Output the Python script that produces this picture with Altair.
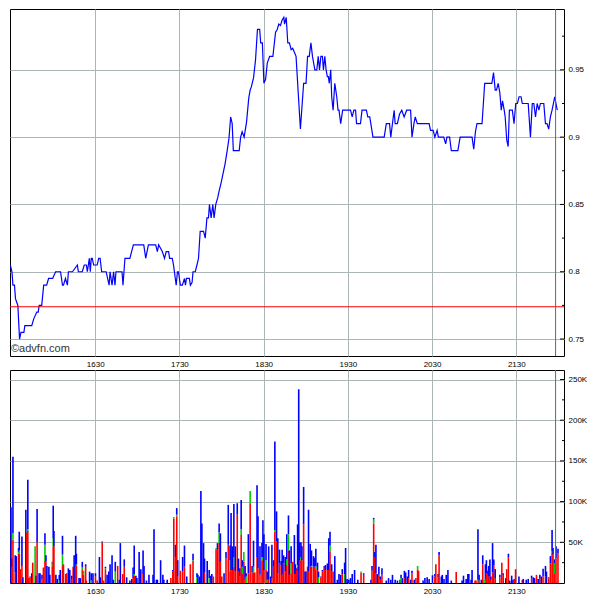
import altair as alt
import pandas as pd

# ---------------- data (minutes after 15:30) ----------------
price_time = [-0.5, 0.7, 1.4, 2.5, 3.2, 4.2, 4.9, 6.1, 7.1, 9.2, 9.9, 14.8, 16.2, 18.4, 19.4, 20.1, 21.9,
              23.3, 25.4, 26.8, 29.7, 31.8, 35.3, 36.7, 37.4, 38.8, 40.2, 40.9, 43.8, 47.3, 48.0, 50.8,
              52.2, 53.7, 54.4, 55.8, 56.5, 57.2, 57.9, 58.9, 61.4, 62.5, 63.5, 64.6, 67.8, 69.9, 70.6,
              72.0, 73.1, 74.1, 74.8, 79.1, 79.8, 81.2, 84.7, 87.2, 94.6, 96.0, 97.9, 103.1, 104.3, 105.2,
              107.8, 109.4, 110.6, 112.3, 113.0, 114.9, 115.8, 117.7, 118.6, 119.3, 120.7, 122.1, 123.6,
              124.3, 125.0, 127.1, 127.8, 129.0, 129.7, 131.3, 132.5, 133.6, 134.8, 137.2, 138.4, 139.6,
              140.7, 141.4, 142.6, 143.8, 144.7, 145.9, 147.3, 148.3, 149.7, 151.3, 152.5, 153.9, 155.3,
              156.5, 157.6, 158.4, 162.6, 163.6, 164.7, 166.1, 167.8, 169.4, 170.4, 171.3, 172.8, 174.2,
              175.6, 177.2, 177.9, 179.1, 180.2, 181.4, 182.6, 184.3, 186.6, 188.5, 189.7, 190.8, 192.0,
              193.2, 194.4, 194.9, 196.1, 197.2, 198.4, 199.6, 200.7, 201.9, 203.1, 206.2, 208.5, 210.2,
              211.3, 212.5, 213.7, 214.8, 216.5, 217.9, 218.9, 219.8, 220.8, 221.9, 222.6, 223.6, 224.5,
              225.4, 226.1, 226.8, 227.8, 228.5, 229.5, 230.7, 232.1, 233.0, 233.7, 234.9, 236.3, 241.9,
              243.1, 244.3, 245.5, 246.2, 249.0, 250.1, 253.2, 254.2, 255.6, 257.9, 265.9, 267.4, 269.7,
              270.6, 272.0, 273.0, 273.7, 275.3, 276.8, 278.4, 280.1, 281.9, 284.7, 285.7, 287.1, 288.0,
              289.5, 297.9, 298.9, 300.8, 302.0, 303.6, 304.5, 308.3, 309.7, 310.6, 312.5, 313.7, 318.4,
              320.0, 328.5, 329.7, 330.9, 332.0, 335.6, 337.5, 342.6, 343.8, 345.0, 345.9, 347.1, 348.3,
              349.3, 350.2, 351.4, 352.1, 353.2, 354.2, 355.1, 357.2, 358.4, 359.6, 360.8, 362.0, 363.4,
              364.3, 368.5, 370.1, 371.4, 372.5, 373.7, 374.9, 376.1, 377.2, 379.6, 380.8, 381.9, 383.1,
              384.3, 385.5, 387.4, 388.3, 389.2]
price_value = [0.805, 0.80, 0.79, 0.79, 0.78, 0.777, 0.775, 0.75, 0.755, 0.755, 0.76, 0.76, 0.765, 0.77, 0.77,
               0.775, 0.775, 0.79, 0.79, 0.795, 0.795, 0.80, 0.80, 0.79, 0.79, 0.795, 0.79, 0.80, 0.80, 0.805,
               0.80, 0.80, 0.805, 0.805, 0.80, 0.81, 0.80, 0.81, 0.81, 0.805, 0.805, 0.81, 0.81, 0.80, 0.80,
               0.79, 0.80, 0.79, 0.80, 0.79, 0.80, 0.80, 0.79, 0.81, 0.81, 0.82, 0.82, 0.81, 0.82, 0.82, 0.815,
               0.82, 0.815, 0.81, 0.815, 0.815, 0.81, 0.81, 0.805, 0.79, 0.80, 0.80, 0.79, 0.79, 0.795, 0.79,
               0.795, 0.795, 0.79, 0.792, 0.80, 0.80, 0.805, 0.81, 0.83, 0.83, 0.825, 0.84, 0.84, 0.85, 0.84,
               0.85, 0.84, 0.85, 0.855, 0.86, 0.866, 0.874, 0.88, 0.889, 0.899, 0.915, 0.91, 0.89, 0.89, 0.90,
               0.904, 0.90, 0.911, 0.929, 0.935, 0.9375, 0.944, 0.957, 0.98, 0.98, 0.97, 0.97, 0.94, 0.943,
               0.955, 0.96, 0.96, 0.978, 0.98, 0.984, 0.983, 0.987, 0.989, 0.984, 0.989, 0.97, 0.97, 0.965,
               0.966, 0.963, 0.96, 0.906, 0.94, 0.94, 0.96, 0.96, 0.97, 0.96, 0.95, 0.95, 0.96, 0.95, 0.96,
               0.96, 0.95, 0.96, 0.95, 0.945, 0.945, 0.94, 0.95, 0.93, 0.92, 0.94, 0.93, 0.92, 0.92, 0.91,
               0.92, 0.92, 0.915, 0.92, 0.92, 0.91, 0.91, 0.92, 0.92, 0.915, 0.915, 0.90, 0.90, 0.91, 0.91,
               0.90, 0.912, 0.92, 0.91, 0.91, 0.917, 0.92, 0.915, 0.92, 0.92, 0.90, 0.91, 0.915, 0.91, 0.91,
               0.905, 0.905, 0.90, 0.905, 0.90, 0.90, 0.895, 0.90, 0.90, 0.89, 0.89, 0.90, 0.90, 0.891, 0.904,
               0.91, 0.91, 0.94, 0.94, 0.948, 0.935, 0.935, 0.94, 0.933, 0.92, 0.927, 0.92, 0.915, 0.898,
               0.893, 0.92, 0.92, 0.91, 0.925, 0.925, 0.93, 0.93, 0.925, 0.925, 0.90, 0.925, 0.925, 0.915,
               0.925, 0.92, 0.925, 0.925, 0.91, 0.91, 0.906, 0.915, 0.92, 0.93, 0.925, 0.92]
prev_close = 0.774
close_marker = 388

# volume bars: time, total (K), red part (K), green part (K); rest is blue
vol_time = [0.0, 0.7, 1.4, 3.0, 3.8, 5.4, 5.9, 6.6, 7.8, 8.5, 10.6, 11.3, 12.0, 12.7, 13.6, 14.8, 15.5, 17.2,
            17.9, 18.6, 20.0, 20.7, 22.1, 23.1, 24.2, 24.9, 25.6, 27.0, 27.7, 29.4, 30.1, 30.6, 32.0, 33.0,
            34.4, 35.1, 36.7, 37.4, 39.0, 39.7, 40.9, 41.9, 43.3, 44.3, 45.0, 46.1, 46.6, 48.5, 49.4, 50.8,
            51.7, 53.2, 53.7, 56.0, 57.2, 58.4, 60.2, 61.4, 63.0, 63.8, 65.0, 65.9, 67.3, 68.5, 69.7, 70.6,
            72.0, 72.9, 74.3, 76.0, 77.2, 77.9, 79.6, 80.7, 82.4, 84.7, 86.1, 87.0, 87.8, 89.0, 89.7, 91.3,
            92.5, 94.1, 94.8, 96.5, 98.3,
            101.2, 101.9, 103.6, 104.3, 106.6, 108.2, 108.9, 111.3, 113.9, 115.3, 116.0, 117.2, 118.1, 118.8,
            120.7, 122.3, 123.6, 125.2, 127.8, 129.7, 132.5, 133.2, 134.4, 135.3, 136.0, 137.2, 137.9, 139.8,
            141.2, 142.4, 143.1, 144.2, 146.1, 147.1, 148.3, 149.2, 150.2, 151.8, 153.2, 154.8, 156.1, 156.8,
            157.7, 158.8, 159.8, 161.2, 162.1, 163.1, 164.0, 164.9, 165.9, 166.8, 167.5, 169.1, 170.4, 171.8,
            172.8, 173.7, 175.3, 176.0, 177.4, 178.8, 179.5, 180.2, 181.7, 182.6, 183.6, 185.0, 185.9, 187.1,
            188.0, 189.2, 190.1, 191.3, 192.5, 193.2, 194.2,
            195.4, 196.5, 197.7, 198.4, 199.6, 200.7, 201.9, 202.6, 203.5, 204.2, 205.0, 205.7, 206.6, 207.3,
            208.5, 209.5, 210.2, 211.3, 212.0, 213.2, 214.1, 215.5, 216.5, 217.2, 218.4, 219.1, 220.8, 221.9,
            223.1, 224.0, 225.4, 226.4, 227.3, 228.5, 229.5, 230.7, 232.5, 233.7, 234.9, 236.0, 237.7, 238.4,
            239.5, 240.7, 241.9, 243.1, 244.8, 247.1, 249.4, 251.3, 256.5, 257.2, 258.4, 259.1, 260.0, 261.0,
            262.1, 263.1, 264.3, 267.4, 269.0, 270.6, 271.8, 273.7, 275.3, 277.2, 277.9, 278.9, 280.3, 281.2,
            282.4, 283.3, 284.7, 285.7, 287.3, 288.5, 289.7, 290.4, 293.6,
            294.9, 296.5, 297.9, 300.3, 302.0, 302.7, 304.3, 305.0, 306.6, 307.3, 308.5, 310.1, 311.3, 313.7,
            317.2, 321.4, 322.4, 324.3, 325.5, 326.2, 327.8, 328.5, 330.6, 331.3, 332.7, 333.5, 335.1, 336.1,
            337.0, 338.0, 338.7, 339.8, 340.3, 341.2, 341.9, 343.1, 344.0, 345.0, 348.3, 349.7, 350.7, 352.5,
            353.2, 354.4, 355.3, 356.7, 357.7, 358.6, 359.5, 361.9, 364.3, 365.0, 367.1, 368.5, 370.9, 372.1,
            373.0, 374.4, 375.6, 376.8, 377.9, 379.1, 380.8, 381.5, 383.1, 384.3, 385.5, 386.2, 387.4, 388.3,
            389.7]
vol_total = [93, 30, 155, 34, 33, 43, 63, 17, 57, 7, 90, 64, 127, 6, 8, 12, 25, 45,
             9, 91, 12, 12, 10, 19, 61, 34, 21, 20, 10, 26, 95, 64, 10, 5,
             10, 16, 58, 23, 11, 12, 18, 16, 9, 20, 34, 58, 36, 6, 6, 26,
             15, 23, 3, 14, 12, 12, 12, 3, 32, 7, 51, 3, 20, 10, 14, 23,
             34, 4, 26, 21, 4, 49, 11, 29, 7, 3, 5, 19, 46, 9, 6, 38,
             17, 40, 21, 3, 10,
             10, 66, 4, 4, 28, 10, 4, 4, 6, 16, 81, 47, 92, 28,
             15, 32, 46, 8, 23, 36, 12, 10, 8, 113, 73, 49, 30, 27,
             16, 9, 11, 8, 43, 49, 73, 61, 8, 12, 38, 96, 46, 86,
             45, 97, 45, 98, 30, 18, 102, 28, 38, 21, 12, 60, 113, 21,
             52, 13, 120, 82, 45, 49, 77, 60, 48, 14, 45, 8, 47, 28,
             174, 88, 55, 41, 27, 41, 34,
             32, 60, 83, 40, 45, 26, 59, 23, 18, 72, 238, 50, 50, 45,
             118, 14, 14, 20, 90, 48, 40, 33, 31, 42, 25, 14, 8, 16,
             21, 22, 24, 55, 63, 23, 14, 33, 4, 11, 10, 17, 25, 43,
             5, 4, 6, 11, 16, 4, 14, 12, 4, 21, 80, 38, 47, 11,
             20, 8, 18, 3, 6, 4, 10, 4, 3, 4, 10, 6, 15, 13,
             8, 16, 4, 15, 4, 6, 21, 15, 3,
             6, 7, 5, 9.5, 11, 23, 11, 38, 8, 10, 5, 10, 16, 3,
             13.5, 3, 9, 5, 11, 11, 4, 16, 3, 3, 66, 10, 4, 34,
             4, 23, 28, 15, 21, 29, 8, 49, 29, 17, 10, 25, 12, 6,
             17, 36, 3, 9, 4, 5, 17, 8, 4, 5, 4, 5, 9, 7,
             6, 10, 5, 10, 8, 17.5, 21, 14, 7, 33, 65, 43, 29, 45,
             42]
vol_red = [0, 20, 53, 13, 0, 36, 36, 17, 21, 0, 0, 62, 64, 6, 7, 0, 25, 0,
           0, 50, 0, 0, 5, 19, 27, 27, 0, 0, 0, 20, 45, 45, 0, 0,
           0, 0, 21, 23, 10, 12, 0, 0, 5, 19, 0, 20, 21, 0, 0, 16,
           10, 20, 3, 0, 0, 0, 8, 3, 0, 0, 50, 3, 17, 0, 0, 0,
           0, 0, 0, 21, 0, 0, 11, 20, 0, 0, 0, 6, 9, 0, 0, 0,
           0, 11, 0, 0, 0,
           0, 0, 0, 0, 0, 0, 0, 0, 6, 14, 79, 32, 82, 8,
           15, 14, 20, 0, 23, 27, 0, 0, 0, 0, 0, 0, 13, 0,
           0, 0, 0, 8, 41, 41, 49, 26, 8, 0, 30, 47, 14, 16,
           16, 20, 14, 84, 14, 8, 59, 12, 26, 4, 0, 12, 98, 13,
           13, 13, 32, 18, 10, 28, 28, 16, 16, 0, 4, 0, 6, 20,
           63, 51, 12, 24, 22, 10, 24,
           14, 22, 40, 10, 12, 26, 11, 11, 16, 20, 0, 28, 28, 28,
           72, 0, 0, 20, 14, 20, 20, 20, 20, 16, 16, 0, 7, 14,
           20, 16, 16, 16, 38, 14, 14, 0, 0, 0, 0, 11, 0, 0,
           0, 0, 0, 0, 0, 0, 13, 10, 0, 15, 73, 32, 12, 0,
           10, 4, 10, 0, 0, 0, 0, 0, 0, 0, 0, 0, 6, 0,
           0, 6, 0, 12, 0, 6, 16, 15, 0,
           0, 0, 0, 0, 8, 23, 7, 34, 0, 0, 0, 0, 0, 0,
           13.5, 0, 0, 0, 0, 0, 0, 0, 3, 3, 0, 3, 0, 23,
           0, 0, 12, 10, 8, 8, 4, 13, 22, 6, 7, 25, 10, 0,
           17, 32, 0, 0, 0, 5, 17, 0, 4, 0, 0, 0, 6, 0,
           0, 10, 0, 6, 0, 8, 8, 0, 6, 24, 37, 35, 12, 30,
           37]
vol_green = [0, 0, 8, 0, 0, 2, 4, 0, 0, 0, 0, 2, 2, 0, 0, 0, 0, 45,
             0, 0, 0, 0, 0, 0, 20, 0, 0, 0, 0, 5, 10, 0, 0, 0,
             3, 0, 14, 0, 0, 0, 0, 0, 0, 0, 0, 0, 2, 0, 0, 3,
             5, 0, 0, 0, 3, 0, 0, 0, 0, 0, 0, 0, 1, 0, 0, 0,
             0, 0, 14, 0, 0, 0, 0, 0, 0, 0, 0, 0, 2, 0, 0, 0,
             0, 0, 0, 0, 0,
             0, 0, 0, 0, 0, 0, 0, 0, 0, 0, 2, 0, 2, 0,
             0, 0, 0, 0, 0, 1, 7, 0, 0, 0, 0, 0, 0, 0,
             6, 0, 0, 0, 2, 0, 13, 0, 0, 0, 0, 0, 14, 0,
             0, 12, 0, 0, 0, 0, 7, 8, 12, 0, 8, 0, 15, 0,
             7, 0, 0, 0, 0, 4, 4, 0, 12, 4, 0, 0, 0, 0,
             2, 0, 0, 0, 0, 0, 0,
             0, 7, 20, 0, 12, 0, 0, 0, 0, 2, 0, 0, 4, 0,
             0, 0, 0, 0, 0, 0, 1, 0, 0, 5, 0, 7, 0, 0,
             0, 0, 0, 0, 8, 0, 0, 0, 0, 0, 0, 0, 11, 0,
             0, 0, 0, 0, 0, 0, 1, 0, 0, 0, 5, 0, 0, 0,
             0, 0, 0, 0, 0, 0, 0, 0, 0, 0, 6, 0, 0, 0,
             0, 0, 0, 0, 0, 0, 5, 0, 0,
             0, 0, 0, 0, 0, 0, 0, 0, 0, 0, 0, 0, 0, 0,
             0, 0, 0, 0, 0, 0, 0, 0, 0, 0, 4, 0, 0, 0,
             4, 4, 0, 0, 0, 0, 0, 0, 0, 0, 0, 0, 0, 0,
             0, 0, 0, 0, 0, 0, 0, 0, 0, 0, 0, 0, 0, 0,
             0, 0, 0, 0, 0, 0, 0, 0, 0, 0, 2, 0, 12, 0,
             0]

tick_minutes = [60, 120, 180, 240, 300, 360]
tick_labels = ["1630", "1730", "1830", "1930", "2030", "2130"]
price_ticks = [0.75, 0.8, 0.85, 0.9, 0.95]
price_minor = [0.775, 0.825, 0.875, 0.925, 0.975]
vol_ticks = [50, 100, 150, 200, 250]
vol_minor = [25, 75, 125, 175, 225]

# ---------------- build ----------------
W = 554
H_TOP = 347
H_BOT = 213
GRID = "#adb6b6"
FONT = "Liberation Sans"

label_expr = "[" + ",".join("'%s'" % s for s in tick_labels) + "][indexof([" + \
    ",".join(str(v) for v in tick_minutes) + "], datum.value)]"

x_scale = alt.Scale(domain=[-0.7, 394], nice=False, zero=False, padding=0)
x_axis = alt.Axis(values=tick_minutes, labelExpr=label_expr, tickSize=0, domain=False, grid=True,
                  gridColor=GRID, gridOpacity=1, labelFontSize=8, labelFont=FONT, labelColor="black",
                  labelPadding=4, title=None)
x_enc = alt.X("t:Q", scale=x_scale, axis=x_axis)

p_scale = alt.Scale(domain=[0.7374, 0.9952], nice=False, zero=False, padding=0)
p_axis = alt.Axis(orient="right", values=price_ticks, labelExpr="toString(datum.value)",
                  tickSize=0, domain=False, grid=True, gridColor=GRID, gridOpacity=1,
                  labelFontSize=8, labelFont=FONT, labelColor="black", labelPadding=4, title=None)
v_scale = alt.Scale(domain=[0, 261.7], nice=False, zero=True, padding=0)
v_axis = alt.Axis(orient="right", values=vol_ticks, labelExpr="datum.value + 'K'",
                  tickSize=0, domain=False, grid=True, gridColor=GRID, gridOpacity=1,
                  labelFontSize=8, labelFont=FONT, labelColor="black", labelPadding=4, title=None)

price_df = pd.DataFrame({"t": price_time, "p": price_value})

line = alt.Chart(price_df).mark_line(color="#0000ff", strokeWidth=1.2, clip=True).encode(
    x=x_enc, y=alt.Y("p:Q", scale=p_scale, axis=p_axis),
)
close_rule = alt.Chart(pd.DataFrame({"p": [prev_close]})).mark_rule(color="#ff0000", strokeWidth=1.2).encode(
    y=alt.Y("p:Q", scale=p_scale, axis=p_axis)
)
marker_top = alt.Chart(pd.DataFrame({"t": [close_marker]})).mark_rule(color="#666666", strokeWidth=1).encode(
    x=x_enc
)
major_top = alt.Chart(pd.DataFrame({"p": price_ticks})).mark_rule(color="black").encode(
    y=alt.Y("p:Q", scale=p_scale, axis=p_axis), x=alt.value(W - 4), x2=alt.value(W)
)
minor_top = alt.Chart(pd.DataFrame({"p": price_minor})).mark_rule(color="black").encode(
    y=alt.Y("p:Q", scale=p_scale, axis=p_axis), x=alt.value(W - 2), x2=alt.value(W)
)
credit = alt.Chart(pd.DataFrame({"label": ["©advfn.com"]})).mark_text(
    align="left", baseline="middle", font=FONT, fontSize=11, color="#333333"
).encode(x=alt.value(1), y=alt.value(340), text="label:N")

top = alt.layer(line, close_rule, marker_top, major_top, minor_top, credit).properties(width=W, height=H_TOP)

rows = []
for t, tot, r, g in zip(vol_time, vol_total, vol_red, vol_green):
    rows.append({"t": t, "v": r, "kind": "red", "ord": 0})
    rows.append({"t": t, "v": g, "kind": "green", "ord": 1})
    rows.append({"t": t, "v": max(tot - r - g, 0), "kind": "blue", "ord": 2})
vol_df = pd.DataFrame(rows)

bars = alt.Chart(vol_df).mark_bar(size=1.6, clip=True).encode(
    x=x_enc,
    y=alt.Y("v:Q", stack="zero", scale=v_scale, axis=v_axis),
    color=alt.Color("kind:N", scale=alt.Scale(domain=["red", "green", "blue"],
                                              range=["#ff0000", "#00cc00", "#0000ff"]), legend=None),
    order=alt.Order("ord:Q"),
)
marker_bot = alt.Chart(pd.DataFrame({"t": [close_marker]})).mark_rule(color="#666666", strokeWidth=1).encode(
    x=x_enc
)
major_bot = alt.Chart(pd.DataFrame({"v": vol_ticks})).mark_rule(color="black").encode(
    y=alt.Y("v:Q", scale=v_scale, axis=v_axis), x=alt.value(W - 4), x2=alt.value(W)
)
minor_bot = alt.Chart(pd.DataFrame({"v": vol_minor})).mark_rule(color="black").encode(
    y=alt.Y("v:Q", scale=v_scale, axis=v_axis), x=alt.value(W - 2), x2=alt.value(W)
)
bottom = alt.layer(bars, marker_bot, major_bot, minor_bot).properties(width=W, height=H_BOT)

chart = alt.vconcat(top, bottom, spacing=0).properties(
    padding={"left": 0, "top": 0, "right": 0, "bottom": 0}, background="white"
).configure_view(stroke="black", strokeWidth=1)

chart.save("out.html", embed_options={"renderer": "svg", "actions": False})
